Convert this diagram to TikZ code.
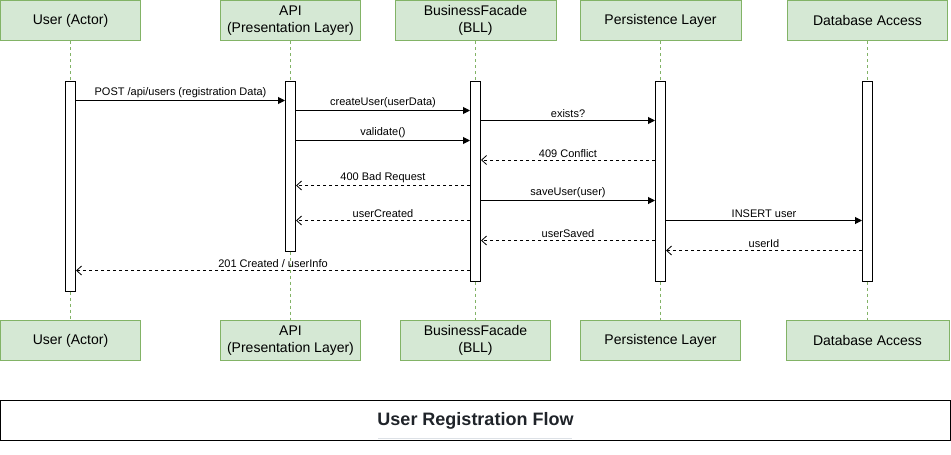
\documentclass[tikz,border=0pt]{standalone}
\usepackage{fontspec}
\setmainfont{Liberation Sans}
\usetikzlibrary{arrows.meta, positioning}

\definecolor{boxfill}{HTML}{D5E8D4}
\definecolor{boxline}{HTML}{82B366}
\definecolor{titletext}{HTML}{1F2329}
\definecolor{titlerule}{HTML}{DDE1E6}

\tikzset{
  actor/.style={draw=boxline, fill=boxfill, line width=1pt, minimum height=40pt, inner sep=0pt, align=center, font=\fontsize{14}{17}\selectfont},
  actbar/.style={draw, fill=white, line width=1pt, minimum width=10pt, inner sep=0pt, anchor=north},
  lifeline/.style={draw=boxline, line width=1pt, dash pattern=on 3pt off 3pt},
  call/.style={line width=1pt, -{Triangle[length=7pt,width=7pt]}},
  reply/.style={line width=0.8pt, dash pattern=on 3pt off 3pt, -{Straight Barb[length=5pt,width=9pt]}},
  msglabel/.style={above=1pt, inner sep=1pt, font=\fontsize{11}{13}\selectfont},
}

\begin{document}
\begin{tikzpicture}[x=1pt, y=-1pt]
\useasboundingbox (0,0) rectangle (951,455);

% participants: top box, activation bar, bottom box
\foreach \n/\x/\wt/\wb/\h/\t in {
    user/70.5/140/140/210/User (Actor),
    api/290.5/140/140/170/{API\\(Presentation Layer)},
    bll/475.5/161/150/200/{BusinessFacade\\(BLL)},
    dal/660.5/161/160/200/Persistence Layer,
    db/867.5/160/163/200/Database Access}
{
    \node[actor, minimum width=\wt pt] (\n-top) at (\x,20.5) {\t};
    \node[actor, minimum width=\wb pt] (\n-bot) at (\x,340.5) {\t};
    \node[actbar, minimum height=\h pt] (\n-act) at (\x,80.5) {};
    \draw[lifeline] (\n-top) -- (\n-act);
    \draw[lifeline] (\n-act) -- (\n-bot);
}

% calls
\foreach \a/\b/\y/\t in {
    user/api/100.5/{POST /api/users (registration Data)},
    api/bll/110.5/createUser(userData),
    bll/dal/120.5/exists?,
    api/bll/140.5/validate(),
    bll/dal/200.5/saveUser(user),
    dal/db/220.5/INSERT user}
{
    \draw[call] (\a-act.east |- 0,\y) -- node[msglabel]{\t} (\b-act.west |- 0,\y);
}

% replies
\foreach \a/\b/\y/\t in {
    dal/bll/160/409 Conflict,
    bll/api/185.5/400 Bad Request,
    bll/api/220.5/userCreated,
    dal/bll/240.5/userSaved,
    db/dal/250.5/userId,
    bll/user/270.5/{201 Created / userInfo}}
{
    \draw[reply] (\a-act.west |- 0,\y) -- node[msglabel]{\t} (\b-act.east |- 0,\y);
}

% caption
\node[draw, line width=1.2pt, minimum width=950pt, minimum height=40pt, inner sep=0pt,
      text=titletext, font=\bfseries\fontsize{18}{22}\selectfont] (title) at (475.5,420.5) {User Registration Flow};
\draw[titlerule, line width=1pt] (378,438.3) -- (572,438.3);

\end{tikzpicture}
\end{document}
